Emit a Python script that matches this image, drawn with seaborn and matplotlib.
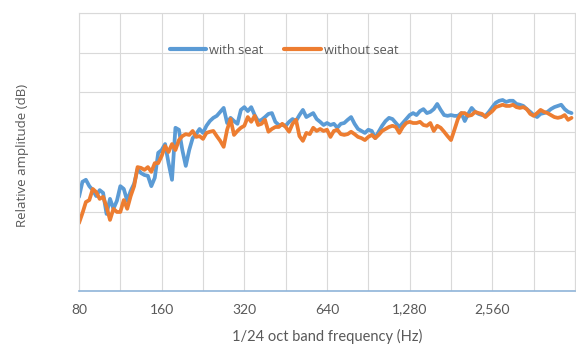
import numpy as np
import pandas as pd
import matplotlib
matplotlib.use("Agg")
import matplotlib.pyplot as plt
from matplotlib.ticker import FixedLocator, NullFormatter, FixedFormatter
import seaborn as sns

# 1/24-octave band numbers starting at 80 Hz
band_index = list(range(144))
series_names = ["with seat", "without seat"]
tick_values = [80, 160, 320, 640, 1280, 2560]
tick_labels = ["80", "160", "320", "640", "1,280", "2,560"]
grid_values = [80, 113, 160, 226, 320, 453, 640, 905, 1280, 1810, 2560, 3620, 5120]

with_seat = [
    23.7, 27.5, 28.0, 26.4, 25.4, 23.9, 25.4, 24.7, 19.4, 23.2,
    20.7, 22.7, 26.4, 25.7, 22.7, 25.2, 27.0, 30.7, 29.7, 29.2,
    29.0, 26.4, 28.5, 34.8, 35.5, 37.0, 32.2, 28.0, 41.1, 40.6,
    35.5, 31.5, 35.5, 38.5, 39.5, 40.8, 39.8, 41.6, 42.8, 43.6,
    44.1, 45.1, 46.1, 42.3, 43.6, 42.8, 42.1, 45.6, 46.3, 45.3,
    46.3, 44.3, 42.8, 43.1, 43.8, 44.6, 44.8, 42.6, 41.8, 41.8,
    41.6, 42.6, 43.3, 42.8, 44.3, 45.6, 43.8, 44.3, 44.8, 43.3,
    42.6, 41.8, 42.3, 41.8, 42.1, 41.1, 42.1, 42.3, 43.1, 43.8,
    42.1, 40.8, 40.3, 39.8, 40.6, 40.3, 38.5, 40.1, 41.6, 42.8,
    43.6, 43.3, 42.3, 41.3, 42.3, 43.3, 44.3, 44.8, 44.3, 45.3,
    45.8, 44.8, 45.1, 45.8, 47.1, 45.6, 44.3, 44.1, 44.3, 44.1,
    44.1, 44.8, 42.8, 44.6, 46.1, 45.1, 44.6, 44.3, 44.1, 45.1,
    46.3, 47.4, 47.9, 48.1, 47.6, 47.9, 47.9, 47.1, 46.9, 46.6,
    45.8, 45.1, 44.3, 43.8, 44.6, 44.8, 45.1, 45.8, 46.3, 46.6,
    46.9, 45.8, 45.1, 44.8,
]
without_seat = [
    17.1, 19.6, 22.4, 22.9, 25.7, 24.9, 23.2, 23.7, 21.2, 17.9,
    20.7, 19.9, 19.9, 22.9, 20.7, 23.9, 26.4, 31.2, 31.0, 30.5,
    31.2, 30.0, 32.2, 32.2, 34.0, 36.5, 35.0, 37.0, 35.5, 38.0,
    39.0, 39.5, 39.3, 40.3, 38.8, 39.0, 38.3, 39.8, 40.1, 40.3,
    39.0, 37.8, 36.3, 40.6, 43.3, 39.3, 40.3, 41.1, 41.6, 43.8,
    42.6, 44.1, 41.8, 42.1, 43.1, 40.1, 40.8, 41.3, 41.3, 42.1,
    41.3, 40.1, 42.1, 43.1, 39.0, 37.8, 39.8, 39.5, 41.1, 40.3,
    40.8, 40.3, 40.6, 38.8, 40.3, 40.6, 39.5, 39.3, 39.5, 40.1,
    39.5, 38.8, 38.5, 38.0, 38.8, 39.3, 38.5, 39.3, 40.3, 40.8,
    41.3, 41.6, 41.3, 39.8, 41.3, 42.3, 42.6, 42.3, 42.3, 42.6,
    41.8, 41.6, 42.3, 40.3, 41.6, 41.1, 40.1, 39.0, 38.0, 40.6,
    43.3, 44.8, 44.8, 44.1, 44.3, 45.1, 44.8, 44.6, 43.8, 44.6,
    45.3, 46.3, 46.6, 46.9, 46.6, 46.6, 46.9, 46.3, 46.1, 46.3,
    45.8, 44.6, 44.1, 44.8, 45.6, 45.1, 44.8, 44.3, 43.8, 43.6,
    43.8, 44.3, 43.1, 43.6,
]

freqs = [80 * 2 ** (n / 24) for n in band_index]
df = pd.DataFrame({
    "freq": freqs * 2,
    "amp": with_seat + without_seat,
    "series": [series_names[0]] * len(freqs) + [series_names[1]] * len(freqs),
})

sns.set_theme(style="white")
plt.rcParams["font.family"] = ["Lato", "DejaVu Sans"]

fig = plt.figure(figsize=(5.76, 3.44), dpi=100)
ax = fig.add_axes([79 / 576, 1 - 291 / 344, 496 / 576, 278 / 344])

sns.lineplot(data=df, x="freq", y="amp", hue="series",
             palette={"with seat": "#5B9BD5", "without seat": "#ED7D31"},
             linewidth=2.7, ax=ax, legend=True)

ax.set_xscale("log", base=2)
ax.set_xlim(80, 5120)
ax.set_ylim(0, 70)
ax.xaxis.set_major_locator(FixedLocator(tick_values))
ax.xaxis.set_major_formatter(FixedFormatter(tick_labels))
ax.xaxis.set_minor_locator(FixedLocator(grid_values))
ax.xaxis.set_minor_formatter(NullFormatter())
ax.set_yticks(np.arange(0, 71, 10))
ax.set_yticklabels([])
ax.grid(True, which="both", axis="x", color="#D9D9D9", linewidth=0.8)
ax.grid(True, which="major", axis="y", color="#D9D9D9", linewidth=0.8)
ax.set_axisbelow(True)
ax.tick_params(axis="both", which="both", length=0)
ax.tick_params(axis="x", pad=9, labelsize=10, labelcolor="#595959")
ax.set_xlabel("")
ax.set_ylabel("")
for side in ["left", "top", "right"]:
    ax.spines[side].set_color("#D9D9D9")
    ax.spines[side].set_linewidth(0.8)
ax.spines["bottom"].set_color("#8FB4D9")
ax.spines["bottom"].set_linewidth(1.2)

leg = ax.legend(loc="center left", bbox_to_anchor=((170 - 79) / 496, (291 - 50) / 278),
                ncol=2, frameon=False, handlelength=2.8,
                handletextpad=0.25, columnspacing=1.6, borderpad=0, borderaxespad=0,
                prop={"family": ["Open Sans", "DejaVu Sans"], "size": 9.3})
for t in leg.get_texts():
    t.set_color("#595959")
for h in leg.get_lines():
    h.set_linewidth(3.0)

fig.text(327 / 576, 1 - 336 / 344, "1/24 oct band frequency (Hz)", ha="center", va="center",
         fontsize=10.5, color="#595959")
fig.text(23 / 576, 1 - 155 / 344, "Relative amplitude (dB)", ha="center", va="center",
         rotation=90, fontsize=9.5, color="#595959", family=["Open Sans", "DejaVu Sans"])

fig.savefig("out.png", dpi=100)
